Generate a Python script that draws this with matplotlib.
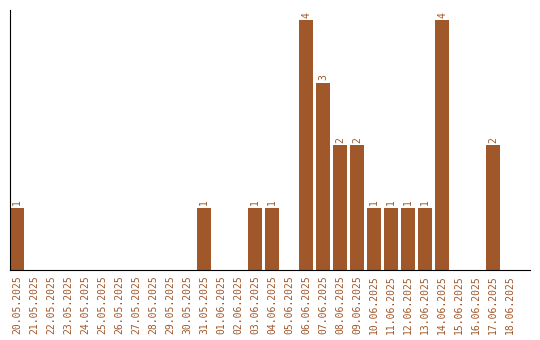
import matplotlib
matplotlib.use("Agg")
import matplotlib.pyplot as plt

dates = ["20.05.2025","21.05.2025","22.05.2025","23.05.2025","24.05.2025","25.05.2025",
         "26.05.2025","27.05.2025","28.05.2025","29.05.2025","30.05.2025","31.05.2025",
         "01.06.2025","02.06.2025","03.06.2025","04.06.2025","05.06.2025","06.06.2025",
         "07.06.2025","08.06.2025","09.06.2025","10.06.2025","11.06.2025","12.06.2025",
         "13.06.2025","14.06.2025","15.06.2025","16.06.2025","17.06.2025","18.06.2025"]
values = [1,0,0,0,0,0,0,0,0,0,0,1,0,0,1,1,0,4,3,2,2,1,1,1,1,4,0,0,2,0]

color = "#A0572A"
fig = plt.figure(figsize=(5.4, 3.4), dpi=100)
ax = fig.add_axes([10/540, 70/340, 520/540, 260/340])
w = 14/17
xs = list(range(len(dates)))
ax.bar(xs, values, width=w, align='edge', color=color)
for x, v in zip(xs, values):
    if v > 0:
        ax.text(x + w/2, v + 0.04, str(v), rotation=90, ha='center', va='bottom',
                color=color, fontsize=7, family='DejaVu Sans Mono')
ax.set_xlim(0, 520/17)
ax.set_ylim(0, 4.16)
ax.set_xticks([x + w/2 for x in xs])
ax.set_xticklabels(dates, rotation=90, color=color, fontsize=7, family='DejaVu Sans Mono')
ax.tick_params(axis='x', length=0, pad=4)
ax.set_yticks([])
for s in ['top', 'right']:
    ax.spines[s].set_visible(False)
ax.spines['left'].set_color('black')
ax.spines['bottom'].set_color('black')
fig.savefig("out.png", dpi=100)
